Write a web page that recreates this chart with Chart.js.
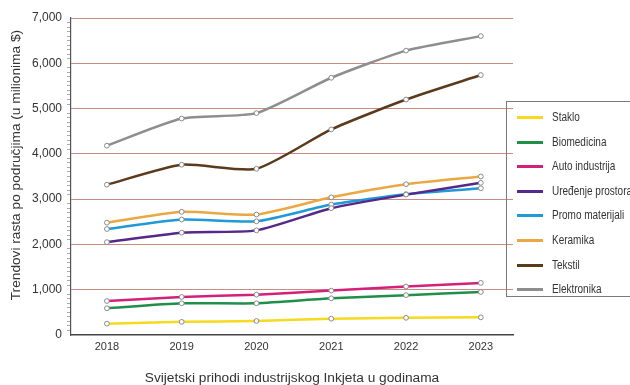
<!DOCTYPE html>
<html>
<head>
<meta charset="utf-8">
<script src="https://cdn.jsdelivr.net/npm/chart.js@4"></script>
<style>
  html, body { margin: 0; padding: 0; background: #fff; overflow: hidden; }
  #wrap { position: relative; width: 630px; height: 385px; }
  #legend {
    position: absolute; left: 506px; top: 101px; width: 140px; height: 196px;
    border: 1px solid #7a7a7a; box-sizing: border-box;
    font: 12.5px "Liberation Sans", Arial, sans-serif; color: #333;
  }
  #legend .item { position: absolute; left: 10px; height: 14px; line-height: 14px; }
  #legend .swatch { position: absolute; left: 0; top: 6px; width: 26px; height: 3px; }
  #legend .label {
    position: absolute; left: 35px; top: 0; white-space: nowrap;
    transform: scaleX(0.8); transform-origin: 0 50%;
  }
</style>
</head>
<body>
<div id="wrap">
  <canvas id="chart" width="630" height="385"></canvas>
  <div id="legend"></div>
</div>
<script>
const years = [2018, 2019, 2020, 2021, 2022, 2023]

const seriesNames = ['Staklo', 'Biomedicina', 'Auto industrija', 'Uređenje prostora',
  'Promo materijali', 'Keramika', 'Tekstil', 'Elektronika']
const seriesColors = ['#f6da1e', '#1f8f4a', '#d3217a', '#55288a',
  '#1f9ad6', '#eaa843', '#5b3a1c', '#8e8e8e']

const staklo = [250, 290, 310, 360, 380, 390]
const biomedicina = [590, 700, 700, 810, 880, 950]
const autoIndustrija = [750, 840, 890, 980, 1070, 1150]
const uredjenje = [2050, 2260, 2310, 2800, 3100, 3360]
const promo = [2340, 2550, 2510, 2880, 3110, 3240]
const keramika = [2480, 2720, 2660, 3040, 3330, 3500]
const tekstil = [3320, 3760, 3670, 4540, 5200, 5740]
const elektronika = [4180, 4780, 4900, 5680, 6280, 6600]

const seriesValues = [staklo, biomedicina, autoIndustrija, uredjenje, promo, keramika, tekstil, elektronika]

// leading no-break spaces nudge the rotated title up, as in the original
const yTitle = '\u00a0'.repeat(6) + 'Trendovi rasta po područjima (u milionima $)'
const xTitle = 'Svijetski prihodi industrijskog Inkjeta u godinama'

const datasets = seriesNames.map((name, i) => ({
  label: name,
  data: seriesValues[i],
  borderColor: seriesColors[i],
  backgroundColor: seriesColors[i],
  borderWidth: 2.5,
  tension: 0.2,
  pointRadius: 2.4,
  pointBorderWidth: 1,
  pointBorderColor: '#8a8a8a',
  pointBackgroundColor: '#ffffff',
}))

const chart = new Chart(document.getElementById('chart'), {
  type: 'line',
  data: { labels: years, datasets },
  options: {
    responsive: false,
    animation: false,
    layout: { padding: { left: 0, right: 117, top: 18, bottom: 0 } },
    scales: {
      x: {
        type: 'linear',
        min: 2017.52,
        max: 2023.43,
        afterBuildTicks: scale => { scale.ticks = years.map(v => ({ value: v })) },
        afterFit: scale => { scale.height = 50 },
        grid: { display: false, drawTicks: false },
        border: { color: '#444', width: 1.5 },
        ticks: {
          color: '#333',
          padding: 5,
          font: { family: '"Liberation Sans", Arial, sans-serif', size: 11 },
          callback: v => String(v),
        },
        title: {
          display: true,
          text: xTitle,
          color: '#333',
          padding: { top: 0, bottom: 0 },
          font: { family: '"Liberation Sans", Arial, sans-serif', size: 13.7, lineHeight: 1 },
        },
      },
      y: {
        min: 0,
        max: 7000,
        afterFit: scale => { scale.width = 71 },
        border: { color: '#555', width: 1.2 },
        grid: {
          color: ctx => (ctx.tick && ctx.tick.value % 1000 === 0 && ctx.tick.value > 0) ? '#c98b82' : 'rgba(0,0,0,0)',
          tickColor: ctx => (ctx.tick && ctx.tick.value % 1000 === 0) ? 'rgba(0,0,0,0)' : '#aaa',
          tickLength: 4,
          lineWidth: 1,
        },
        ticks: {
          stepSize: 100,
          autoSkip: false,
          padding: 5,
          color: '#333',
          font: { family: '"Liberation Sans", Arial, sans-serif', size: 12 },
          callback: v => (v % 1000 === 0 ? v.toLocaleString('en-US') : ''),
        },
        title: {
          display: true,
          text: yTitle,
          color: '#333',
          padding: { top: 8, bottom: 0 },
          font: { family: '"Liberation Sans", Arial, sans-serif', size: 13.7 },
        },
      },
    },
    plugins: {
      legend: { display: false },
      tooltip: { enabled: false },
    },
  },
})

// HTML legend box built from the chart's datasets
const legendEl = document.getElementById('legend')
chart.data.datasets.forEach((ds, i) => {
  const item = document.createElement('div')
  item.className = 'item'
  item.style.top = (8 + i * 24.6) + 'px'
  item.innerHTML = `<span class="swatch" style="background:${ds.borderColor}"></span><span class="label">${ds.label}</span>`
  legendEl.appendChild(item)
})
</script>
</body>
</html>
